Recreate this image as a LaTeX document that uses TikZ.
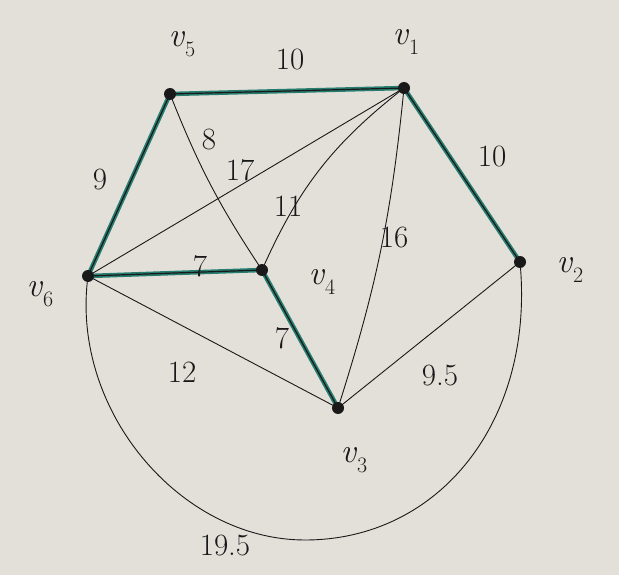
\documentclass[tikz,border=0pt]{standalone}
\usepackage{tikz}
\definecolor{paper}{RGB}{227,224,217}
\definecolor{mst}{RGB}{38,125,112}
\definecolor{ink}{RGB}{25,25,25}
\pgfdeclarelayer{paperlayer}
\pgfdeclarelayer{edgelayer}
\pgfsetlayers{paperlayer,edgelayer,main}
\newcommand{\vname}[1]{\textit{v}\raisebox{-0.3em}{\fontsize{22}{24}\selectfont #1}}
\begin{document}
\begin{tikzpicture}[x=1pt,y=-1pt,
  vtx/.style={circle,fill=ink,inner sep=0pt,minimum size=12pt},
  edge/.style={draw=ink,line width=0.9pt},
  tree/.style={draw=mst,line width=4.5pt},
  treeink/.style={draw=ink,line width=1.2pt},
  wlab/.style={font=\fontsize{31}{33}\selectfont,text=ink,inner sep=1pt},
  vlab/.style={font=\fontsize{34}{36}\selectfont,text=ink,inner sep=1pt}]
\begin{pgfonlayer}{paperlayer}
\fill[paper] (0,0) rectangle (619,575);
\end{pgfonlayer}
\useasboundingbox (0,0) rectangle (619,575);
% vertices
\node[vtx] (v1) at (404,88) {};
\node[vtx] (v2) at (520,262) {};
\node[vtx] (v3) at (338,408) {};
\node[vtx] (v4) at (262,270) {};
\node[vtx] (v5) at (170,94) {};
\node[vtx] (v6) at (88,276) {};
% vertex labels
\node[vlab] (l1) at (406,42) {\vname{1}};
\node[vlab] (l2) at (570,270) {\vname{2}};
\node[vlab] (l3) at (354,460) {\vname{3}};
\node[vlab] (l4) at (322,282) {\vname{4}};
\node[vlab] (l5) at (182,44) {\vname{5}};
\node[vlab] (l6) at (40,294) {\vname{6}};
\begin{pgfonlayer}{edgelayer}
% tree edges (highlighted)
\draw[tree] (v5.center) -- (v1.center);
\draw[tree] (v1.center) -- (v2.center);
\draw[tree] (v5.center) -- (v6.center);
\draw[tree] (v6.center) -- (v4.center);
\draw[tree] (v4.center) -- (v3.center);
\draw[treeink] (v5.center) -- (v1.center);
\draw[treeink] (v1.center) -- (v2.center);
\draw[treeink] (v5.center) -- (v6.center);
\draw[treeink] (v6.center) -- (v4.center);
\draw[treeink] (v4.center) -- (v3.center);
% other edges
\draw[edge] (v5.center) to[bend right=6] (v4.center);
\draw[edge] (v6.center) -- (v1.center);
\draw[edge] (v4.center) to[bend left=14] (v1.center);
\draw[edge] (v1.center) to[bend left=6] (v3.center);
\draw[edge] (v6.center) -- (v3.center);
\draw[edge] (v3.center) -- (v2.center);
\coordinate (bot) at (305,540);
\draw[edge] (v6.center) .. controls (70,410) and (180,540) .. (bot)
  .. controls (440,540) and (535,420) .. (v2.center);
\end{pgfonlayer}
% weights
\node[wlab] (w51) at (290,60) {10};
\node[wlab] (w12) at (492,157) {10};
\node[wlab] (w56) at (100,180) {9};
\node[wlab] (w64) at (200,266) {7};
\node[wlab] (w43) at (282,338) {7};
\node[wlab] (w54) at (209,140) {8};
\node[wlab] (w61) at (240,170) {17};
\node[wlab] (w41) at (288,206) {11};
\node[wlab] (w31) at (394,238) {16};
\node[wlab] (w63) at (182,372) {12};
\node[wlab] (w32) at (440,376) {9.5};
\node[wlab] (w62) at (225,545) {19.5};
\end{tikzpicture}
\end{document}
